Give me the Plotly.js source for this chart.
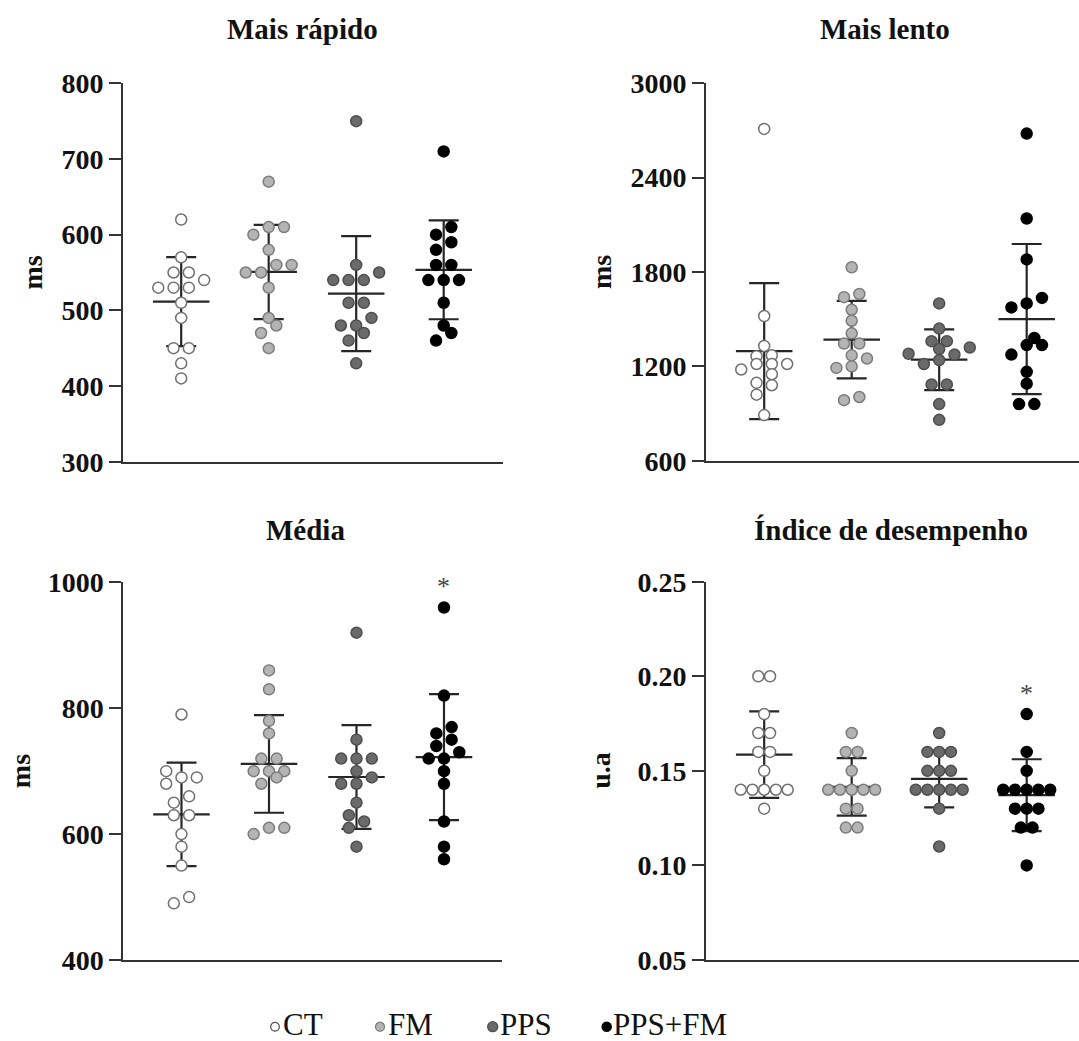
<!DOCTYPE html>
<html>
<head>
<meta charset="utf-8">
<script src="https://cdn.plot.ly/plotly-3.0.1.min.js"></script>
<style>html,body{margin:0;padding:0;background:#fff;}#chart{width:1079px;height:1041px;}</style>
</head>
<body>
<div id="chart"></div>
<script>
// ---------------- DATA ----------------
const groups = ['CT', 'FM', 'PPS', 'PPS+FM'];
const panelTitles = ['Mais rápido', 'Mais lento', 'Média', 'Índice de desempenho'];
const yTitles = ['ms', 'ms', 'ms', 'u.a'];

const rapidoCT    = [620, 570, 550, 550, 540, 530, 530, 530, 510, 490, 450, 450, 430, 410];
const rapidoFM    = [670, 610, 610, 600, 580, 560, 560, 550, 550, 530, 490, 480, 470, 450];
const rapidoPPS   = [750, 560, 550, 540, 540, 540, 510, 510, 490, 480, 480, 470, 460, 430];
const rapidoPPSFM = [710, 610, 600, 590, 580, 560, 560, 540, 540, 540, 510, 480, 470, 460];

const lentoCT     = [2710, 1520, 1330, 1270, 1265, 1215, 1215, 1215, 1180, 1150, 1095, 1080, 1020, 890];
const lentoFM     = [1830, 1660, 1640, 1560, 1490, 1410, 1345, 1345, 1270, 1250, 1200, 1190, 1005, 985];
const lentoPPS    = [1600, 1440, 1360, 1360, 1320, 1310, 1280, 1275, 1240, 1215, 1085, 1085, 960, 860];
const lentoPPSFM  = [2680, 2140, 1880, 1635, 1600, 1575, 1380, 1335, 1335, 1275, 1165, 1090, 960, 960];

const mediaCT     = [790, 700, 690, 690, 680, 660, 650, 630, 630, 600, 580, 550, 500, 490];
const mediaFM     = [860, 830, 780, 760, 720, 720, 700, 700, 700, 690, 680, 610, 610, 600];
const mediaPPS    = [920, 750, 720, 720, 720, 700, 690, 680, 680, 650, 630, 620, 610, 580];
const mediaPPSFM  = [960, 820, 770, 760, 750, 740, 730, 720, 720, 700, 680, 620, 580, 560];

const indiceCT    = [0.20, 0.20, 0.18, 0.17, 0.17, 0.16, 0.16, 0.15, 0.14, 0.14, 0.14, 0.14, 0.14, 0.13];
const indiceFM    = [0.17, 0.16, 0.16, 0.15, 0.14, 0.14, 0.14, 0.14, 0.14, 0.13, 0.13, 0.12, 0.12];
const indicePPS   = [0.17, 0.16, 0.16, 0.16, 0.15, 0.15, 0.15, 0.14, 0.14, 0.14, 0.14, 0.14, 0.13, 0.11];
const indicePPSFM = [0.18, 0.16, 0.15, 0.14, 0.14, 0.14, 0.14, 0.14, 0.13, 0.13, 0.13, 0.12, 0.12, 0.10];

const yTicks1 = [300, 400, 500, 600, 700, 800];
const yTicks2 = [600, 1200, 1800, 2400, 3000];
const yTicks3 = [400, 600, 800, 1000];
const yTicks4 = [0.05, 0.10, 0.15, 0.20, 0.25];

const starGroup = [null, null, 'PPS+FM', 'PPS+FM'];   // significance marks

// ---------------- STYLE / LAYOUT ----------------
const W = 1079, H = 1041;
const SERIF = "'Liberation Serif', 'Times New Roman', serif";
const fills = ['#ffffff', '#b4b4b4', '#6a6a6a', '#000000'];
const edges = ['#707070', '#7c7c7c', '#4e4e4e', '#000000'];
const barColor = '#262626';

const panels = [
  {data: [rapidoCT, rapidoFM, rapidoPPS, rapidoPPSFM], ticks: yTicks1, yr: [300, 800], xpx: [123, 503], ypx: [83.3, 461.7], fmt: '', ytx: 32},
  {data: [lentoCT, lentoFM, lentoPPS, lentoPPSFM], ticks: yTicks2, yr: [600, 3000], xpx: [706, 1079], ypx: [83.3, 460.7], fmt: '', ytx: 601},
  {data: [mediaCT, mediaFM, mediaPPS, mediaPPSFM], ticks: yTicks3, yr: [400, 1000], xpx: [123.3, 501.7], ypx: [582.3, 960], fmt: '', ytx: 20},
  {data: [indiceCT, indiceFM, indicePPS, indicePPSFM], ticks: yTicks4, yr: [0.05, 0.25], xpx: [706, 1079], ypx: [581.7, 960], fmt: '.2f', ytx: 601}
];
const titlePos = [[302.5, 29], [884.7, 29], [305, 530], [891, 530]];
const X0 = -0.665, PX_PER_CAT = 87.5;
const ROW_PX = 10, COLL_PX = 10, MAX_STEP = 15.3, MAX_HALF = 23.5;

function mean(a) { return a.reduce((s, v) => s + v, 0) / a.length; }
function sd(a) { const m = mean(a); return Math.sqrt(a.reduce((s, v) => s + (v - m) * (v - m), 0) / (a.length - 1)); }

function makeRows(values, pyu) {
  const order = values.map((v, i) => i).sort((a, b) => values[a] - values[b]);
  const rows = []; let cur = null;
  for (const i of order) {
    const py = values[i] * pyu;
    if (cur && py - cur.start < ROW_PX) cur.items.push(i);
    else { cur = {start: py, items: [i]}; rows.push(cur); }
  }
  return rows;
}
function swarmOffsets(values, rows, pyu, step) {
  const off = new Array(values.length).fill(0);
  const placed = [];
  for (const r of rows) {
    const n = r.items.length;
    const base = r.items.map((_, k) => k - (n - 1) / 2);
    const cands = n === 1 ? [[0], [0.5], [-0.5], [1], [-1]]
                          : [base, base.map(o => o === 0 ? 0 : o + Math.sign(o))];
    let chosen = cands[0];
    for (const c of cands) {
      const ok = r.items.every((i, k) => placed.every(p =>
        Math.hypot((c[k] - p.o) * step, values[i] * pyu - p.py) >= COLL_PX));
      if (ok) { chosen = c; break; }
    }
    r.items.forEach((i, k) => { off[i] = chosen[k]; placed.push({o: chosen[k], py: values[i] * pyu}); });
  }
  return off;
}

const traces = [];
const layout = {
  width: W, height: H, margin: {l: 0, r: 0, t: 0, b: 0},
  paper_bgcolor: '#ffffff', plot_bgcolor: '#ffffff', showlegend: false,
  font: {family: SERIF, color: '#111'},
  annotations: [], shapes: []
};

panels.forEach((P, pi) => {
  const ax = pi === 0 ? '' : String(pi + 1);
  const xa = 'x' + ax, ya = 'y' + ax;
  const wpx = P.xpx[1] - P.xpx[0], hpx = P.ypx[1] - P.ypx[0];
  const pyu = hpx / (P.yr[1] - P.yr[0]);
  const xr = [X0, X0 + wpx / PX_PER_CAT];

  layout['xaxis' + ax] = {
    domain: [P.xpx[0] / W, P.xpx[1] / W], range: xr, anchor: ya,
    showgrid: false, zeroline: false, showticklabels: false, ticks: '',
    showline: true, linecolor: '#333', linewidth: 2, fixedrange: true
  };
  layout['yaxis' + ax] = {
    domain: [1 - P.ypx[1] / H, 1 - P.ypx[0] / H], range: P.yr, anchor: xa,
    tickmode: 'array', tickvals: P.ticks, tickformat: P.fmt,
    ticks: 'outside', ticklen: 12, tickwidth: 2, tickcolor: '#333',
    showline: true, linecolor: '#333', linewidth: 2,
    showgrid: false, zeroline: false, fixedrange: true,
    tickfont: {family: SERIF, size: 28, weight: 'bold', color: '#111'}
  };

  // y-axis title (rotated)
  layout.annotations.push({text: '<b>' + yTitles[pi] + '</b>', xref: 'paper', yref: 'paper',
    x: P.ytx / W, y: 1 - (P.ypx[0] + P.ypx[1]) / 2 / H, xanchor: 'center', yanchor: 'middle',
    textangle: -90, showarrow: false, font: {family: SERIF, size: 28, color: '#111'}});

  const rowsAll = P.data.map(vals => makeRows(vals, pyu));
  const maxN = Math.max(...rowsAll.flat().map(r => r.items.length));
  const step = maxN > 1 ? Math.min(MAX_STEP, 2 * MAX_HALF / (maxN - 1)) : MAX_STEP;

  // mean and SD bars (under the points)
  P.data.forEach((vals, gi) => {
    const m = mean(vals), s = sd(vals);
    traces.push({type: 'scatter', mode: 'lines', xaxis: xa, yaxis: ya, hoverinfo: 'skip',
      x: [gi - 0.323, gi + 0.323], y: [m, m], line: {color: barColor, width: 2.2}});
    traces.push({type: 'scatter', mode: 'markers', xaxis: xa, yaxis: ya, hoverinfo: 'skip',
      x: [gi], y: [m], marker: {size: 1, opacity: 0},
      error_y: {type: 'data', array: [s], visible: true, color: barColor, thickness: 2.2, width: 15}});
  });
  // points
  P.data.forEach((vals, gi) => {
    const off = swarmOffsets(vals, rowsAll[gi], pyu, step);
    traces.push({type: 'scatter', mode: 'markers', name: groups[gi], xaxis: xa, yaxis: ya,
      x: vals.map((v, i) => gi + off[i] * step / PX_PER_CAT), y: vals,
      marker: {size: 11, color: fills[gi], line: {color: edges[gi], width: 1.5}}});
  });

  // panel title
  layout.annotations.push({text: '<b>' + panelTitles[pi] + '</b>', xref: 'paper', yref: 'paper',
    x: titlePos[pi][0] / W, y: 1 - titlePos[pi][1] / H, xanchor: 'center', yanchor: 'middle',
    showarrow: false, font: {family: SERIF, size: 29, color: '#111'}});

  // significance asterisk
  if (starGroup[pi]) {
    const gi = groups.indexOf(starGroup[pi]);
    layout.annotations.push({text: '*', xref: xa, yref: ya, x: gi, y: Math.max(...P.data[gi]),
      yanchor: 'middle', yshift: 21, showarrow: false, font: {family: SERIF, size: 26, color: '#444'}});
  }
});

// legend (bottom, centered)
const legendMarks = [275, 380, 492.7, 606.7];
const legendText = [282, 387, 499, 612];
const legendR = [4.3, 4.5, 5, 4.6];
const LY = 1026.7;
groups.forEach((g, gi) => {
  const cx = legendMarks[gi], r = legendR[gi];
  layout.shapes.push({type: 'circle', xref: 'paper', yref: 'paper',
    x0: (cx - r) / W, x1: (cx + r) / W, y0: 1 - (LY + r) / H, y1: 1 - (LY - r) / H,
    fillcolor: fills[gi], line: {color: gi === 0 ? '#555' : edges[gi], width: 1.3}});
  layout.annotations.push({text: g, xref: 'paper', yref: 'paper', x: legendText[gi] / W, y: 1 - (LY - 2) / H,
    xanchor: 'left', yanchor: 'middle', showarrow: false, borderpad: 0,
    font: {family: SERIF, size: 31, color: '#111'}});
});

Plotly.newPlot('chart', traces, layout, {displayModeBar: false, staticPlot: true});
</script>
</body>
</html>
